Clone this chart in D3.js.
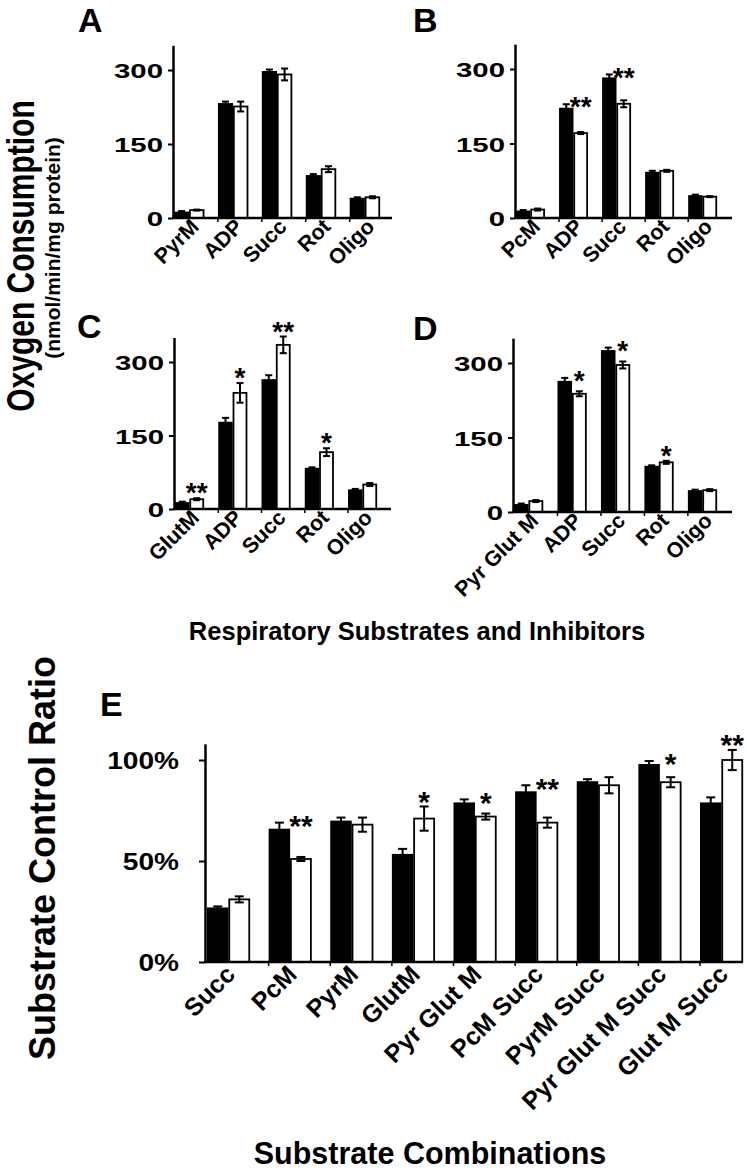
<!DOCTYPE html>
<html><head><meta charset="utf-8">
<script src="https://cdn.jsdelivr.net/npm/d3@7"></script>
<style>
body{margin:0;background:#fff}
svg{display:block}
text{font-family:"Liberation Sans",Arial,sans-serif;font-weight:bold;fill:#000}
</style>
</head><body>
<svg id="chart" width="747" height="1173"></svg>
<script>
// ---------- DATA ----------
const catsA = ["PyrM","ADP","Succ","Rot","Oligo"];
const blackA = [13,233,298,87,41];
const blackErrA = [1,3,3,2,1];
const whiteA = [16,226,291,99,42];
const whiteErrA = [1,10,12,6,2];
const sigA = ["","","","",""];

const catsB = ["PcM","ADP","Succ","Rot","Oligo"];
const blackB = [15,222,283,93,46];
const blackErrB = [1,7,6,2,1];
const whiteB = [17,171,230,95,43];
const whiteErrB = [2,2,7,2,1];
const sigB = ["","**","**","",""];

const catsC = ["GlutM","ADP","Succ","Rot","Oligo"];
const blackC = [14,178,265,84,40];
const blackErrC = [1,8,8,1,1];
const whiteC = [20,237,335,116,50];
const whiteErrC = [2,20,17,8,3];
const sigC = ["**","*","**","*",""];

const catsD = ["Pyr Glut M","ADP","Succ","Rot","Oligo"];
const blackD = [16,264,326,93,44];
const blackErrD = [1,6,5,1,1];
const whiteD = [22,238,296,100,44];
const whiteErrD = [2,5,7,3,2];
const sigD = ["","*","*","*",""];

const catsE = ["Succ","PcM","PyrM","GlutM","Pyr Glut M","PcM Succ","PyrM Succ","Pyr Glut M Succ","Glut M Succ"];
const blackE = [0.27,0.66,0.70,0.535,0.79,0.845,0.895,0.98,0.79];
const blackErrE = [0.005,0.03,0.015,0.025,0.015,0.03,0.01,0.015,0.025];
const whiteE = [0.31,0.51,0.68,0.71,0.72,0.69,0.875,0.89,1.00];
const whiteErrE = [0.015,0.01,0.035,0.06,0.015,0.025,0.04,0.025,0.05];
const sigE = ["","**","","*","*","**","","*","**"];

const yTicksO2 = [0,150,300];
const yMaxO2 = 350;
const yTicksE = [0,0.5,1];
const yMaxE = 1.08;

// ---------- LAYOUT ----------
const svg = d3.select("#chart");

function panel(cfg){
  const g = svg.append("g");
  const y = d3.scaleLinear().domain([0,cfg.yMax]).range([cfg.y0,cfg.yTop]);
  const x = d3.scaleBand().domain(cfg.cats).range([cfg.pairStart,cfg.pairEnd]).paddingInner(cfg.pad).paddingOuter(0);
  const sub = d3.scaleBand().domain(["b","w"]).range([0,x.bandwidth()]);
  const rows = cfg.cats.map((c,i)=>({c,b:cfg.black[i],be:cfg.blackErr[i],w:cfg.white[i],we:cfg.whiteErr[i],s:cfg.sig[i]}));

  // bars
  const gb = g.append("g");
  gb.selectAll("rect.b").data(rows).join("rect")
    .attr("x",d=>x(d.c)+sub("b")).attr("width",sub.bandwidth())
    .attr("y",d=>y(d.b)).attr("height",d=>y(0)-y(d.b))
    .attr("fill","#000");
  gb.selectAll("rect.w").data(rows).join("rect")
    .attr("x",d=>x(d.c)+sub("w")+0.75).attr("width",sub.bandwidth()-1.5)
    .attr("y",d=>y(d.w)).attr("height",d=>y(0)-y(d.w))
    .attr("fill","#fff").attr("stroke","#000").attr("stroke-width",cfg.barStroke);

  // error bars
  const eb = [];
  rows.forEach(d=>{
    eb.push({cx:x(d.c)+sub("b")+sub.bandwidth()/2, v:d.b, e:d.be, dark:true});
    eb.push({cx:x(d.c)+sub("w")+sub.bandwidth()/2, v:d.w, e:d.we, dark:false});
  });
  const ge = g.append("g").attr("stroke","#000").attr("stroke-width",2);
  ge.selectAll("line.v").data(eb).join("line")
    .attr("x1",d=>d.cx).attr("x2",d=>d.cx).attr("y1",d=>y(d.v-d.e)).attr("y2",d=>y(d.v+d.e));
  ge.selectAll("line.t").data(eb).join("line")
    .attr("x1",d=>d.cx-cfg.cap).attr("x2",d=>d.cx+cfg.cap).attr("y1",d=>y(d.v+d.e)).attr("y2",d=>y(d.v+d.e));
  ge.selectAll("line.bo").data(eb.filter(d=>!d.dark)).join("line")
    .attr("x1",d=>d.cx-cfg.cap).attr("x2",d=>d.cx+cfg.cap).attr("y1",d=>y(d.v-d.e)).attr("y2",d=>y(d.v-d.e));

  // significance stars
  g.append("g").selectAll("text").data(rows.filter(d=>d.s)).join("text")
    .attr("text-anchor","middle")
    .attr("font-size",cfg.starSize)
    .attr("x",d=>x(d.c)+sub("w")+sub.bandwidth()/2)
    .attr("y",d=>{
      const c = Math.min(y(d.w+d.we)-12, y(d.b+d.be)-4);
      return c + 0.58*cfg.starSize;
    })
    .text(d=>d.s);

  // y axis
  const ya = d3.axisLeft(y).tickValues(cfg.ticks).tickSize(cfg.tickLen).tickSizeOuter(0).tickFormat(cfg.fmt);
  const gy = g.append("g").attr("transform",`translate(${cfg.axisX},0)`).call(ya);
  gy.select(".domain").attr("stroke-width",2.5);
  gy.selectAll(".tick line").attr("stroke-width",2);
  gy.selectAll(".tick text")
    .attr("font-family",null).attr("font-size",cfg.tickFont)
    .attr("x",-(cfg.tickLen+cfg.tickGap)/cfg.tickScale)
    .attr("dy","0.36em")
    .attr("transform",`scale(${cfg.tickScale},1)`);

  // x axis line
  g.append("line").attr("x1",cfg.axisX-1).attr("x2",cfg.axisEnd)
    .attr("y1",y(0)).attr("y2",y(0)).attr("stroke","#000").attr("stroke-width",2.5);
  // category ticks at pair starts
  g.append("g").selectAll("line").data(cfg.cats.slice(1)).join("line")
    .attr("x1",d=>x(d)).attr("x2",d=>x(d)).attr("y1",y(0)).attr("y2",y(0)+4)
    .attr("stroke","#000").attr("stroke-width",1.5);

  // category labels
  g.append("g").selectAll("text").data(cfg.cats).join("text")
    .attr("text-anchor","end").attr("font-size",cfg.catFont)
    .attr("transform",d=>`translate(${x(d)+x.bandwidth()/2+cfg.labDx},${y(0)+cfg.labDy}) rotate(-45)`)
    .text(d=>d);

  // panel letter
  g.append("text").attr("x",cfg.letterX).attr("y",cfg.letterY).attr("font-size",34).text(cfg.letter);
}

const fmtO2 = d3.format("d");
const fmtE = d3.format(".0%");
const common = {yMax:yMaxO2,ticks:yTicksO2,fmt:fmtO2,tickLen:5,tickGap:5,tickFont:21,tickScale:1.4,
  catFont:21.5,labDx:11,labDy:10,starSize:28,cap:3.5,barStroke:1.8};

panel(Object.assign({},common,{cats:catsA,black:blackA,blackErr:blackErrA,white:whiteA,whiteErr:whiteErrA,sig:sigA,
  letter:"A",letterX:78,letterY:32,axisX:173,axisEnd:392,pairStart:174,pairEnd:380,pad:0.31,y0:218,yTop:218-350*0.4933}));
panel(Object.assign({},common,{cats:catsB,black:blackB,blackErr:blackErrB,white:whiteB,whiteErr:whiteErrB,sig:sigB,
  letter:"B",letterX:413,letterY:32,axisX:515,axisEnd:732,pairStart:516,pairEnd:717,pad:0.33,y0:218,yTop:218-350*0.4967}));
panel(Object.assign({},common,{cats:catsC,black:blackC,blackErr:blackErrC,white:whiteC,whiteErr:whiteErrC,sig:sigC,
  letter:"C",letterX:77,letterY:338,axisX:174,axisEnd:391,pairStart:175,pairEnd:377,pad:0.33,y0:509,yTop:509-350*0.49}));
panel(Object.assign({},common,{cats:catsD,black:blackD,blackErr:blackErrD,white:whiteD,whiteErr:whiteErrD,sig:sigD,
  letter:"D",letterX:413,letterY:340,axisX:513,axisEnd:732,pairStart:514,pairEnd:717,pad:0.33,y0:512,yTop:512-350*0.4967}));
panel(Object.assign({},common,{cats:catsE,black:blackE,blackErr:blackErrE,white:whiteE,whiteErr:whiteErrE,sig:sigE,
  yMax:yMaxE,ticks:yTicksE,fmt:fmtE,tickFont:24,tickScale:1.17,tickLen:6,tickGap:20,catFont:25,labDx:8,labDy:14,
  starSize:30,cap:4.5,letter:"E",letterX:100,letterY:716,axisX:205,axisEnd:743,pairStart:207,pairEnd:743,pad:0.302,
  y0:962,yTop:962-1.08*202}));

// axis titles
svg.append("text").attr("font-size",30)
  .attr("text-anchor","middle")
  .attr("transform","translate(34,256) rotate(-90) scale(1,1.28)")
  .text("Oxygen Consumption");
svg.append("text").attr("font-size",21)
  .attr("text-anchor","middle")
  .attr("transform","translate(60,248) rotate(-90)")
  .text("(nmol/min/mg protein)");
svg.append("text").attr("font-size",25.5).attr("text-anchor","middle")
  .attr("x",417).attr("y",640).text("Respiratory Substrates and Inhibitors");
svg.append("text").attr("font-size",36).attr("text-anchor","middle")
  .attr("transform","translate(55,858) rotate(-90)")
  .text("Substrate Control Ratio");
svg.append("text").attr("font-size",30.5).attr("text-anchor","middle")
  .attr("x",430).attr("y",1164).text("Substrate Combinations");
</script>
</body></html>
